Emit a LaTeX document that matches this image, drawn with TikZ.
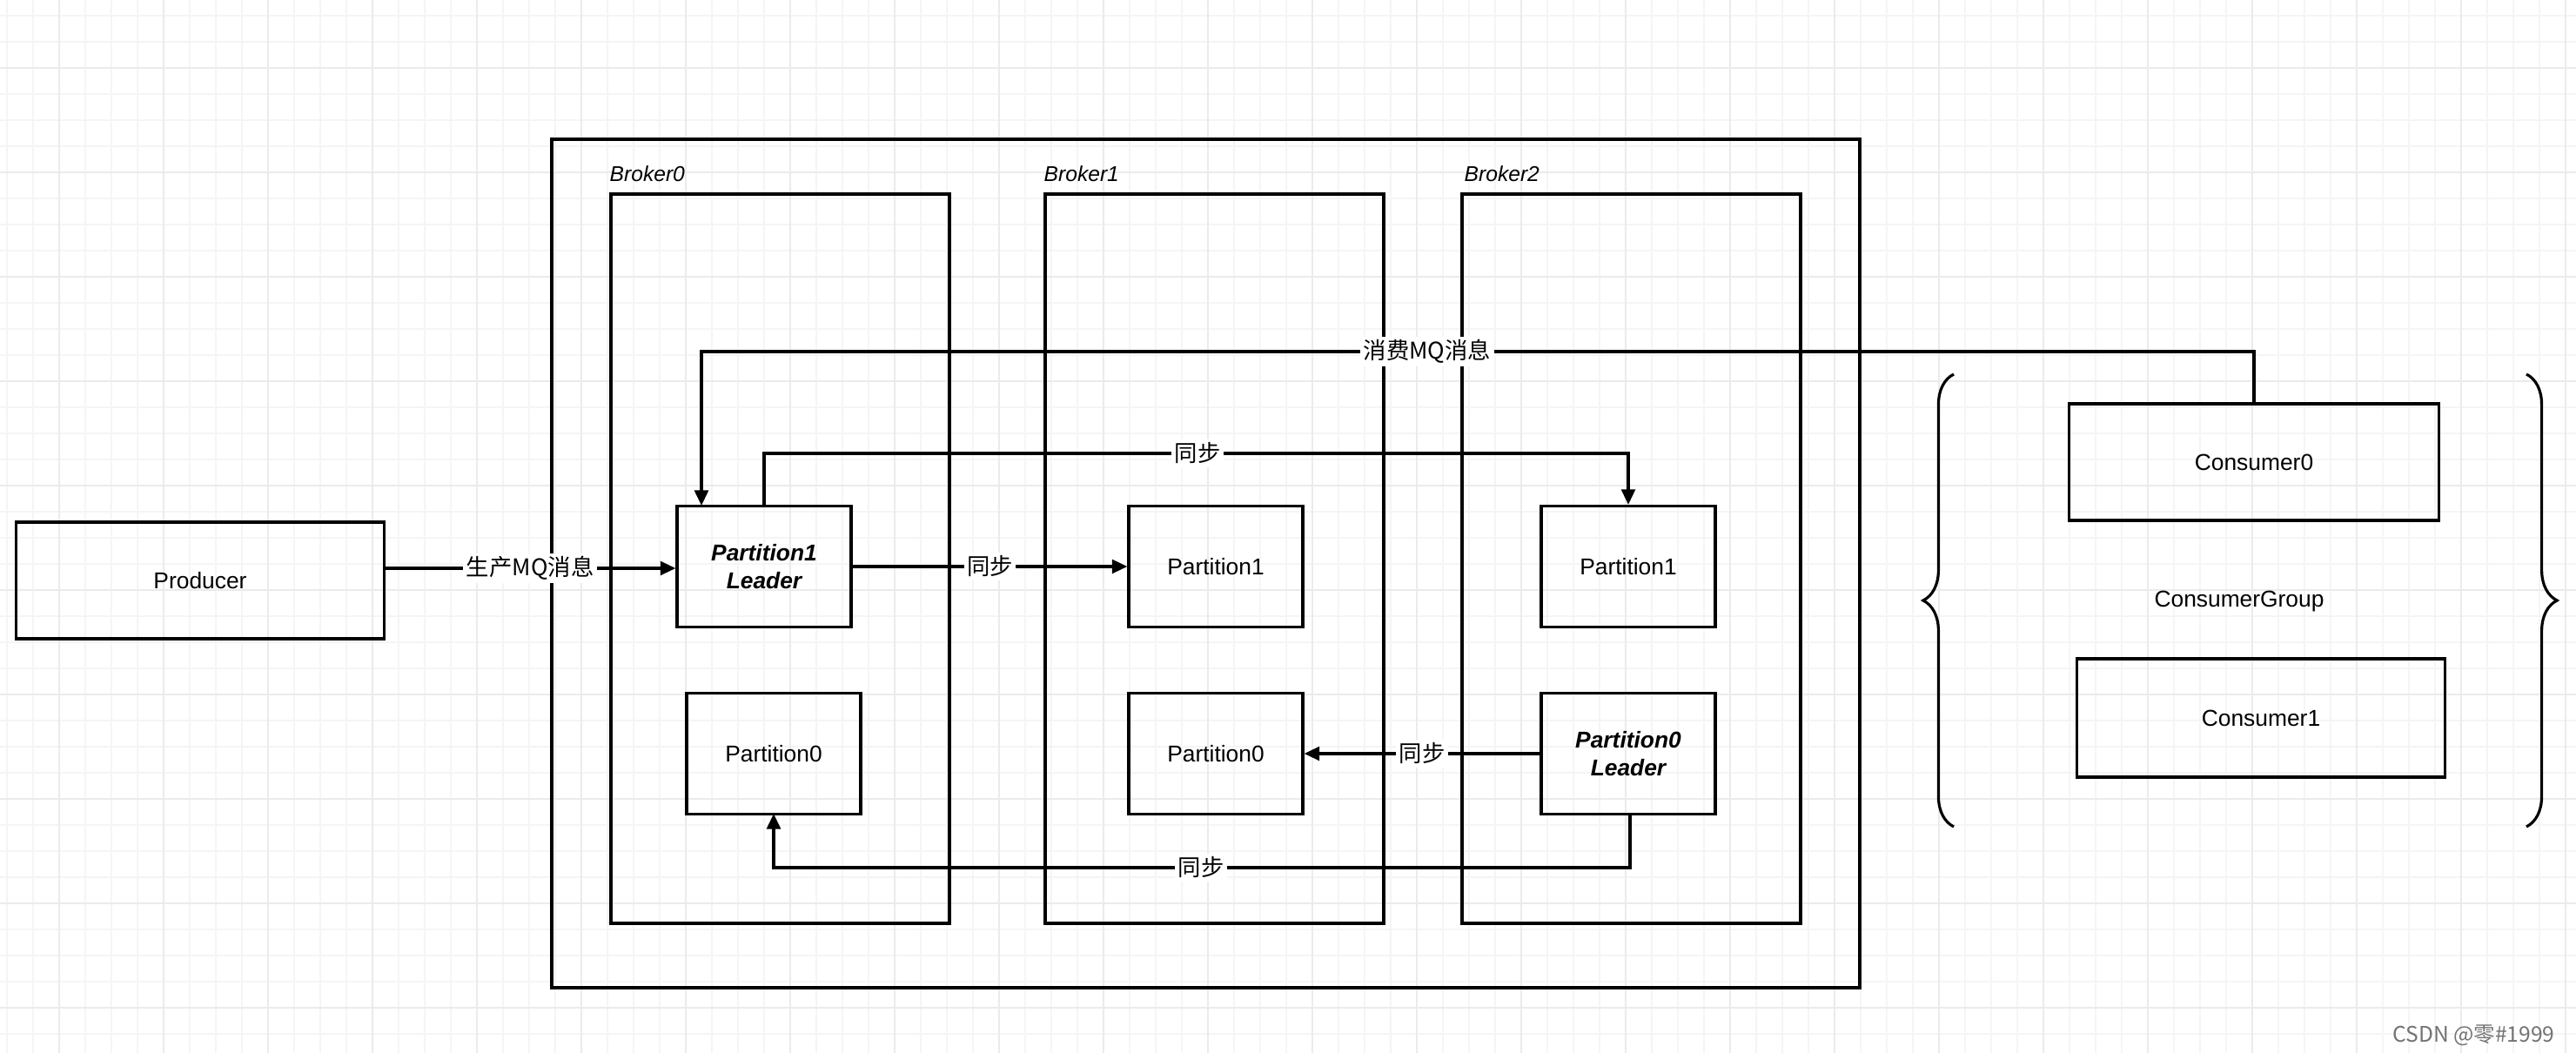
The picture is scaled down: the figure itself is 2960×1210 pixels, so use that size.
\documentclass[tikz,border=0pt]{standalone}
\usepackage{fontspec}
\setmainfont{Liberation Sans}
\newfontfamily\cjk{Noto Sans CJK SC}
\usetikzlibrary{positioning,arrows.meta,decorations.pathreplacing}
\tikzset{
  part/.style={draw, line width=0.9pt, minimum width=2cm, minimum height=1.39cm, align=center},
  arr/.style={-{Triangle[length=5pt,width=4.5pt]}, line width=0.9pt},
  lbl/.style={fill=white, inner sep=1pt, font=\cjk\fontsize{7.5}{9}\selectfont},
  bname/.style={anchor=west, font=\itshape\fontsize{7}{8}\selectfont, inner sep=0pt}
}
\begin{document}
\begin{tikzpicture}[x=0.01cm, y=-0.01cm, font=\fontsize{7.5}{9}\selectfont]
    \useasboundingbox (0,0) rectangle (2960,1210);
    % background grid
    \foreach \x in {8,38,...,2960} \draw[black!4, line width=0.4pt] (\x,0) -- (\x,1210);
    \foreach \y in {18,48,...,1210} \draw[black!4, line width=0.4pt] (0,\y) -- (2960,\y);
    \foreach \x in {68,188,...,2960} \draw[black!8, line width=0.5pt] (\x,0) -- (\x,1210);
    \foreach \y in {78,198,...,1210} \draw[black!8, line width=0.5pt] (0,\y) -- (2960,\y);

    % frames
    \draw[line width=0.9pt] (634,160) rectangle (2137,1135);
    \draw[line width=0.9pt] (702,223) rectangle (1091,1061);
    \draw[line width=0.9pt] (1201,223) rectangle (1590,1061);
    \draw[line width=0.9pt] (1680,223) rectangle (2069,1061);
    \node[bname] (b0) at (700,200) {Broker0};
    \node[bname] (b1) at (1199,200) {Broker1};
    \node[bname] (b2) at (1682,200) {Broker2};

    % nodes
    \node[part, minimum width=4.23cm, minimum height=1.34cm] (prod) at (230,667) {Producer};
    \node[part, font=\itshape\bfseries\fontsize{7.5}{9}\selectfont] (p1l) at (878,651) {Partition1\\Leader};
    \node[part] (p0a) at (889,866) {Partition0};
    \node[part] (p1b) at (1397,651) {Partition1};
    \node[part] (p0b) at (1397,866) {Partition0};
    \node[part] (p1c) at (1871,651) {Partition1};
    \node[part, font=\itshape\bfseries\fontsize{7.5}{9}\selectfont] (p0l) at (1871,866) {Partition0\\Leader};
    \node[part, minimum width=4.25cm, minimum height=1.34cm] (c0) at (2590,531) {Consumer0};
    \node[part, minimum width=4.23cm, minimum height=1.36cm] (c1) at (2598,825) {Consumer1};
    \node (grp) at (2573,691) {ConsumerGroup};
    \draw[line width=0.9pt, decorate, decoration={brace, amplitude=10pt}] (2245,950) -- (2245,430);
    \draw[line width=0.9pt, decorate, decoration={brace, amplitude=10pt}] (2903,430) -- (2903,950);

    % connector ends
    \coordinate (prodout) at (442,653);
    \coordinate (p1lin) at (806,581);
    \coordinate (p1lout) at (878,581);
    \coordinate (p0lout) at (1873,936);
    \coordinate (p0ain) at (889,935);

    % connectors
    \draw[arr] (prodout) -- node[lbl, pos=0.5] {生产MQ消息} (p1l.west |- prodout);
    \draw[arr] (c0.north) |- (1640,404) node[lbl] {消费MQ消息} -| (p1lin);
    \draw[arr] (p1lout) |- (1376,521) node[lbl] {同步} -| (p1c.north);
    \draw[arr] (p1l) -- node[lbl] {同步} (p1b);
    \draw[arr] (p0l) -- node[lbl] {同步} (p0b);
    \draw[arr] (p0lout) |- (1380,997) node[lbl] {同步} -| (p0ain);

    \node[black!55, anchor=east, font=\cjk\fontsize{7}{8}\selectfont] (wm) at (2948,1190) {CSDN @零\#1999};
\end{tikzpicture}
\end{document}
